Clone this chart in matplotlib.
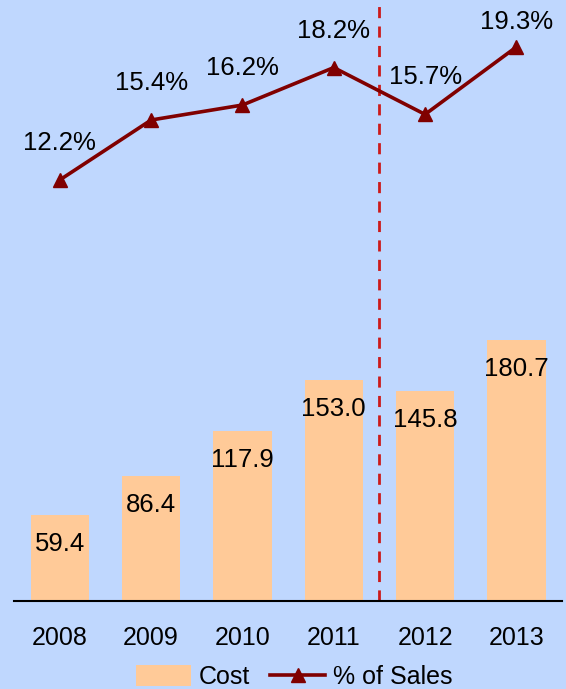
import matplotlib.pyplot as plt
from matplotlib.patches import Patch
from matplotlib.lines import Line2D

# Data
years = ['2008', '2009', '2010', '2011', '2012', '2013']
cost = [59.4, 86.4, 117.9, 153.0, 145.8, 180.7]
pct_of_sales = [12.2, 15.4, 16.2, 18.2, 15.7, 19.3]

BG = '#BFD7FE'
BAR = '#FFCA98'
LINE = '#800000'
DASH = '#CC1A1A'

plt.rcParams['font.family'] = ['Liberation Sans', 'DejaVu Sans']

fig = plt.figure(figsize=(5.66, 6.89), dpi=100, facecolor=BG)
ax = fig.add_axes([0.025, 0.128, 0.968, 0.872])
ax.set_facecolor(BG)

x = list(range(len(years)))
ax.bar(x, cost, width=0.64, color=BAR, zorder=2)
for xi, v in zip(x, cost):
    ax.annotate(f'{v:.1f}', (xi, v), xytext=(0, -29), textcoords='offset pixels',
                ha='center', va='center', fontsize=18.5, zorder=5)

ax.set_xlim(-0.5, 5.5)
ax.set_ylim(0, 417)
ax.set_xticks(x)
ax.set_xticklabels(years, fontsize=18)
ax.tick_params(axis='x', length=0, pad=18)
ax.set_yticks([])
for s in ['top', 'left', 'right']:
    ax.spines[s].set_visible(False)
ax.spines['bottom'].set_color('black')
ax.spines['bottom'].set_linewidth(1.5)
ax.spines['bottom'].set_zorder(6)

# forecast divider
ax.axvline(3.5, color=DASH, ls=(0, (4, 3)), lw=2, zorder=3)

ax2 = ax.twinx()
ax2.plot(x, pct_of_sales, color=LINE, lw=2.6, marker='^', markersize=10, zorder=4)
ax2.set_ylim(-10.28, 21.81)
ax2.set_yticks([])
for s in ax2.spines.values():
    s.set_visible(False)

# labels sit above the points, but stay inside the plot area
fig_h = fig.get_figheight() * fig.dpi
for xi, v in zip(x, pct_of_sales):
    py = ax2.transData.transform((xi, v))[1]
    off = min(37, fig_h - py - 22)
    ax2.annotate(f'{v:.1f}%', (xi, v), xytext=(0, off), textcoords='offset pixels',
                 ha='center', va='center', fontsize=18.5)

handles = [Patch(facecolor=BAR, edgecolor='none'),
           Line2D([0], [0], color=LINE, lw=2.6, marker='^', markersize=10)]
fig.legend(handles, ['Cost', '% of Sales'], loc='center', bbox_to_anchor=(0.52, 0.017),
           ncol=2, frameon=False, fontsize=18, handlelength=2.2, handleheight=0.9,
           columnspacing=0.8, handletextpad=0.3, borderaxespad=0)

fig.savefig('out.png', dpi=100, facecolor=BG)
